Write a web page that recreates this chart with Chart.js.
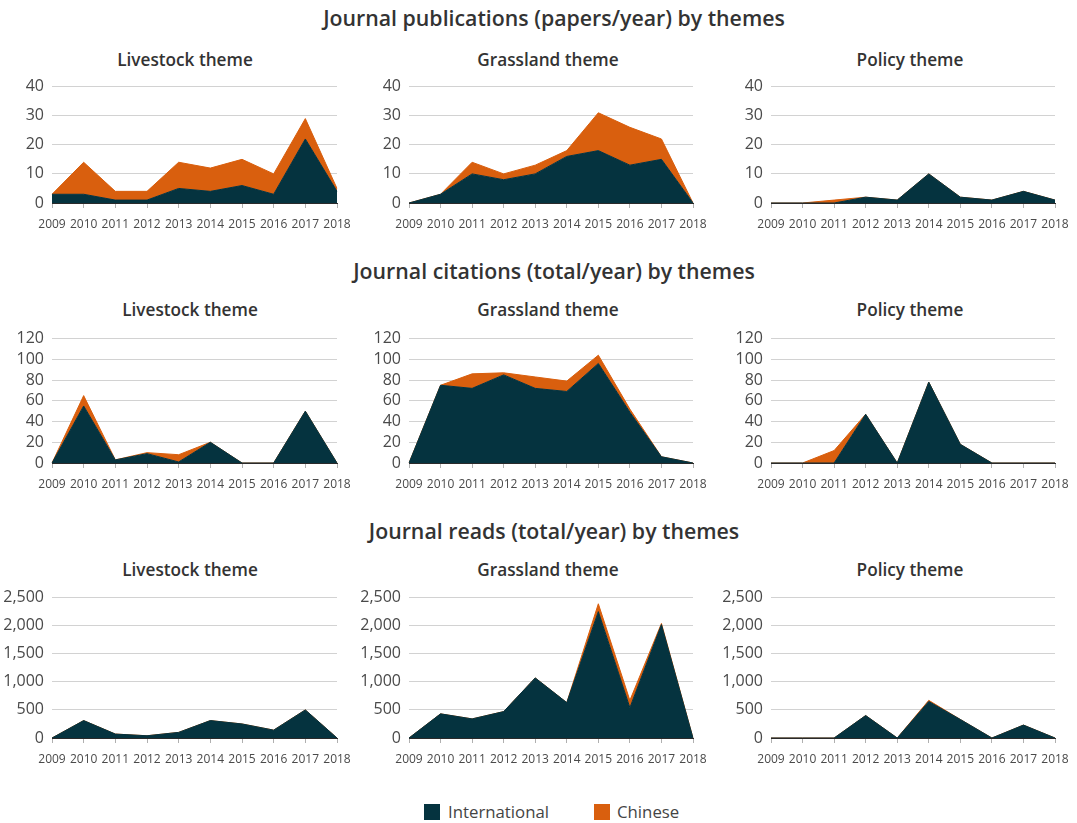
<!DOCTYPE html>
<html>
<head>
<meta charset="utf-8">
<script src="https://cdn.jsdelivr.net/npm/chart.js@4/dist/chart.umd.min.js"></script>
<style>
  html, body { margin: 0; padding: 0; background: #fff; }
  body { width: 1077px; height: 823px; position: relative; overflow: hidden; font-family: "Open Sans", sans-serif; color: #333; }
  .rowtitle { position: absolute; left: 0; width: 1108px; text-align: center; font-size: 21.3px; font-weight: 600; line-height: 24px; color: #333; }
  .sub { position: absolute; width: 300px; text-align: center; font-size: 17.2px; font-weight: 600; line-height: 20px; color: #333; }
  canvas { position: absolute; }
  .legend { position: absolute; top: 803px; left: 0; width: 1077px; height: 20px; font-size: 16.8px; color: #444; }
  .legend .item { position: absolute; top: 0; line-height: 18px; }
  .legend .sw { position: absolute; top: 1px; width: 16px; height: 16px; }
</style>
</head>
<body>
<div class="rowtitle" style="top:6px">Journal publications (papers/year) by themes</div>
<div class="rowtitle" style="top:259px">Journal citations (total/year) by themes</div>
<div class="rowtitle" style="top:519px">Journal reads (total/year) by themes</div>

<div class="legend">
  <div class="sw" style="left:424px;background:#05333f"></div>
  <div class="item" style="left:448px">International</div>
  <div class="sw" style="left:594px;background:#d95f0e"></div>
  <div class="item" style="left:617px">Chinese</div>
</div>

<script>
const years = ['2009','2010','2011','2012','2013','2014','2015','2016','2017','2018'];
const seriesNames = ['International', 'Chinese'];
const themes = ['Livestock theme', 'Grassland theme', 'Policy theme'];

// Journal publications (papers/year)
const pubLivestockIntl = [3, 3, 1, 1, 5, 4, 6, 3, 22, 4];
const pubLivestockChn  = [0, 11, 3, 3, 9, 8, 9, 7, 7, 1];
const pubGrasslandIntl = [0, 3, 10, 8, 10, 16, 18, 13, 15, 0];
const pubGrasslandChn  = [0, 0, 4, 2, 3, 2, 13, 13, 7, 0];
const pubPolicyIntl    = [0, 0, 0, 2, 1, 10, 2, 1, 4, 1];
const pubPolicyChn     = [0, 0, 1, 0, 0, 0, 0, 0, 0, 0];

// Journal citations (total/year)
const citLivestockIntl = [0, 55, 3, 9, 1, 20, 0, 0, 50, 0];
const citLivestockChn  = [0, 10, 0, 1, 7, 0, 0, 0, 0, 0];
const citGrasslandIntl = [0, 75, 72, 85, 72, 69, 96, 49, 6, 0];
const citGrasslandChn  = [0, 0, 14, 2, 11, 10, 8, 3, 0, 0];
const citPolicyIntl    = [0, 0, 0, 47, 0, 78, 18, 0, 0, 0];
const citPolicyChn     = [0, 0, 12, 0, 0, 0, 0, 0, 0, 0];

// Journal reads (total/year)
const readLivestockIntl = [0, 310, 70, 40, 100, 310, 250, 140, 500, 0];
const readLivestockChn  = [0, 0, 0, 0, 0, 0, 0, 0, 0, 0];
const readGrasslandIntl = [0, 430, 340, 470, 1070, 630, 2250, 540, 2020, 0];
const readGrasslandChn  = [0, 0, 0, 0, 0, 0, 140, 130, 20, 0];
const readPolicyIntl    = [0, 0, 0, 400, 0, 650, 330, 0, 230, 0];
const readPolicyChn     = [0, 0, 0, 0, 0, 20, 0, 0, 0, 0];

// y-axis ranges per row
const yMaxes = [40, 120, 2500];
const ySteps = [10, 20, 500];

const rowsData = [
  [[pubLivestockIntl, pubLivestockChn], [pubGrasslandIntl, pubGrasslandChn], [pubPolicyIntl, pubPolicyChn]],
  [[citLivestockIntl, citLivestockChn], [citGrasslandIntl, citGrasslandChn], [citPolicyIntl, citPolicyChn]],
  [[readLivestockIntl, readLivestockChn], [readGrasslandIntl, readGrasslandChn], [readPolicyIntl, readPolicyChn]]
];

// layout (pixel geometry)
const plotLefts = [52, 409, 771];
const plotRights = [337, 693, 1055];
const plotTops = [87, 339, 598];
const plotBottoms = [203, 463, 738];
const subCenters = [[185, 548, 910], [190, 548, 910], [190, 548, 910]];
const subTops = [50, 300, 560];

const INTL = '#05333f';
const CHN = '#d95f0e';
const AXIS_W = 52, TOP_PAD = 12, RIGHT_PAD = 26, X_H = 36;

Chart.defaults.font.family = '"Open Sans", sans-serif';
Chart.defaults.color = '#4a4a4a';

for (let r = 0; r < 3; r++) {
  for (let c = 0; c < 3; c++) {
    const sub = document.createElement('div');
    sub.className = 'sub';
    sub.textContent = themes[c];
    sub.style.left = (subCenters[r][c] - 150) + 'px';
    sub.style.top = subTops[r] + 'px';
    document.body.appendChild(sub);

    const cv = document.createElement('canvas');
    const left = plotLefts[c] - AXIS_W;
    const top = plotTops[r] - TOP_PAD;
    const w = plotRights[c] + RIGHT_PAD - left;
    const h = plotBottoms[r] - top + X_H;
    cv.width = w; cv.height = h;
    cv.style.left = left + 'px';
    cv.style.top = top + 'px';
    cv.style.width = w + 'px';
    cv.style.height = h + 'px';
    document.body.appendChild(cv);

    const [intl, chn] = rowsData[r][c];
    const chart = new Chart(cv, {
      type: 'line',
      data: {
        labels: years,
        datasets: [
          { label: seriesNames[0], data: intl, backgroundColor: INTL, borderColor: INTL, borderWidth: 1, fill: 'origin', pointRadius: 0, tension: 0 },
          { label: seriesNames[1], data: chn, backgroundColor: CHN, borderColor: CHN, borderWidth: 1, fill: '-1', pointRadius: 0, tension: 0 }
        ]
      },
      options: {
        responsive: false,
        maintainAspectRatio: false,
        animation: false,
        devicePixelRatio: 1,
        layout: { padding: { top: TOP_PAD, right: RIGHT_PAD, left: 0, bottom: 0 } },
        plugins: { legend: { display: false }, title: { display: false }, tooltip: { enabled: false } },
        scales: {
          x: {
            offset: false,
            grid: { display: true, drawOnChartArea: false, drawTicks: true, tickLength: 5, tickColor: '#b0b0b0' },
            border: { display: true, color: '#2a2a2a', width: 1 },
            ticks: { font: { size: 12 }, color: '#4a4a4a', padding: 9, maxRotation: 0, autoSkip: false },
            afterFit: (s) => { s.height = X_H; }
          },
          y: {
            stacked: true,
            min: 0, max: yMaxes[r],
            grid: { color: '#d2d2d2', drawTicks: false },
            border: { display: false },
            ticks: { stepSize: ySteps[r], autoSkip: false, font: { size: 16 }, color: '#4a4a4a', padding: 8 },
            afterFit: (s) => { s.width = AXIS_W; }
          }
        }
      }
    });

    // align plot area exactly with the reference geometry (top and bottom)
    let H = h;
    for (let k = 0; k < 3; k++) {
      const t = chart.chartArea.top, b = chart.chartArea.bottom;
      const wantH = plotBottoms[r] - plotTops[r];
      const nh = Math.round(H + wantH - (b - t));
      if (nh !== H) {
        H = nh;
        cv.style.height = H + 'px';
        chart.resize(w, H);
      }
      cv.style.top = Math.round(plotTops[r] - chart.chartArea.top) + 'px';
    }
  }
}
</script>
</body>
</html>
